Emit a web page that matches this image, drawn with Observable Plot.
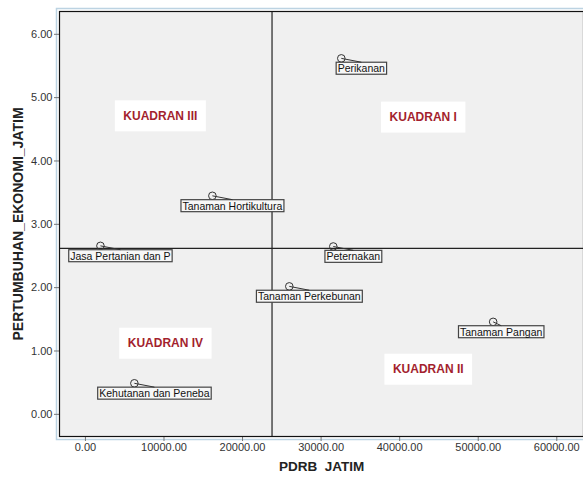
<!DOCTYPE html>
<html><head><meta charset="utf-8">
<script src="https://cdn.jsdelivr.net/npm/d3@7"></script>
<script src="https://cdn.jsdelivr.net/npm/@observablehq/plot@0.6"></script>
<style>body{margin:0;background:#fff}</style>
</head><body>
<script>
// ---- data ----
const sectors = ["Perikanan", "Tanaman Hortikultura", "Jasa Pertanian dan P", "Peternakan", "Tanaman Perkebunan", "Tanaman Pangan", "Kehutanan dan Peneba"];
const pdrb = [32570, 16160, 1910, 31550, 25950, 51900, 6230];
const growth = [5.62, 3.45, 2.66, 2.65, 2.02, 1.46, 0.49];
const quadrantNames = ["KUADRAN I", "KUADRAN II", "KUADRAN III", "KUADRAN IV"];
const quadrantX = [43000, 43640, 9540, 10180];
const quadrantY = [4.69, 0.71, 4.71, 1.12];
const xTicks = [0, 10000, 20000, 30000, 40000, 50000, 60000];
const yTicks = [0, 1, 2, 3, 4, 5, 6];
const xLabel = "PDRB\u00a0 JATIM";
const yLabel = "PERTUMBUHAN_EKONOMI_JATIM";

const points = sectors.map((s, i) => ({sector: s, x: pdrb[i], y: growth[i]}));
const quads = quadrantNames.map((q, i) => ({name: q, x: quadrantX[i], y: quadrantY[i]}));
const meanX = d3.mean(pdrb);
const meanY = d3.mean(growth);

// layout tweak: horizontal shift of label box centre from its point (px)
const labelShift = s => s === "Tanaman Pangan" ? 8 : 20;

const font = "Arial, 'Liberation Sans', sans-serif";
const chart = Plot.plot({
  width: 583,
  height: 479,
  marginLeft: 59,
  marginTop: 11,
  marginRight: 0,
  marginBottom: 43,
  style: {fontFamily: font, fontSize: "11px", background: "#fff", color: "#333"},
  x: {domain: [-3300, 63400]},
  y: {domain: [-0.35, 6.36]},
  marks: [
    Plot.frame({stroke: "#bcd3e2", strokeWidth: 1.5, inset: -3}),
    Plot.frame({fill: "#f0f0f0", stroke: null}),
    Plot.axisX({ticks: xTicks, tickFormat: d3.format(".2f"), tickSize: 5, tickPadding: 2, stroke: "#777", fill: "#333", fontSize: 11, label: null}),
    Plot.axisY({ticks: yTicks, tickFormat: d3.format(".2f"), tickSize: 5, tickPadding: 2, stroke: "#777", fill: "#333", fontSize: 11, label: null}),
    Plot.ruleX([meanX], {stroke: "#222", strokeWidth: 1.2}),
    Plot.ruleY([meanY], {stroke: "#222", strokeWidth: 1.2}),
    Plot.text(quads, {x: "x", y: "y", text: "name", fill: "#a31f2e", fontWeight: "bold", fontSize: 12}),
    Plot.dot(points, {x: "x", y: "y", r: 3.8, stroke: "#333", strokeWidth: 1, fill: "none"}),
    Plot.text(points, {x: "x", y: "y", text: "sector", dy: 10.5, fontSize: 10.5, fill: "#111"}),
    Plot.text([xLabel], {frameAnchor: "bottom", dy: 34, fontWeight: "bold", fontSize: 13.5, fill: "#222"}),
    Plot.text([yLabel], {frameAnchor: "left", dx: -41, rotate: -90, textAnchor: "middle", fontWeight: "bold", fontSize: 14, fill: "#222"}),
    Plot.frame({stroke: "#111", strokeWidth: 1.2})
  ]
});
document.body.append(chart);

const NS = "http://www.w3.org/2000/svg";
const textGroups = chart.querySelectorAll('g[aria-label="text"]');
const quadGroup = textGroups[0];
const ptGroup = textGroups[1];
const dotGroup = chart.querySelector('g[aria-label="dot"]');

// shift point labels horizontally according to layout tweak
const ptTexts = ptGroup.querySelectorAll("text");
ptTexts.forEach((t, i) => {
  const tr = t.getAttribute("transform") || "";
  t.setAttribute("transform", `translate(${labelShift(sectors[i])},0) ` + tr);
});
function boxify(group, padX, padY, fill, stroke) {
  const rects = [];
  group.querySelectorAll("text").forEach(t => {
    const b = t.getBBox();
    const r = document.createElementNS(NS, "rect");
    r.setAttribute("x", b.x - padX);
    r.setAttribute("y", b.y - padY);
    r.setAttribute("width", b.width + 2 * padX);
    r.setAttribute("height", b.height + 2 * padY);
    r.setAttribute("fill", fill);
    if (stroke) { r.setAttribute("stroke", stroke); r.setAttribute("stroke-width", 1.2); }
    if (t.getAttribute("transform")) r.setAttribute("transform", t.getAttribute("transform"));
    t.parentNode.insertBefore(r, t);
    rects.push(r);
  });
  return rects;
}
boxify(quadGroup, 8.5, 8.5, "#ffffff", null);
const labelRects = boxify(ptGroup, 1.5, 0, "#f7f7f7", "#444");

// leader lines from each point to the top centre of its label box
const svgBox = chart.getBoundingClientRect();
const circles = dotGroup.querySelectorAll("circle");
const gl = document.createElementNS(NS, "g");
circles.forEach((c, i) => {
  const cb = c.getBoundingClientRect();
  const rb = labelRects[i].getBoundingClientRect();
  const l = document.createElementNS(NS, "line");
  l.setAttribute("x1", (cb.left + cb.right) / 2 - svgBox.left);
  l.setAttribute("y1", (cb.top + cb.bottom) / 2 - svgBox.top);
  l.setAttribute("x2", (rb.left + rb.right) / 2 - svgBox.left);
  l.setAttribute("y2", rb.top - svgBox.top);
  l.setAttribute("stroke", "#333");
  l.setAttribute("stroke-width", 1);
  gl.appendChild(l);
});
chart.appendChild(gl);
</script>
</body></html>
